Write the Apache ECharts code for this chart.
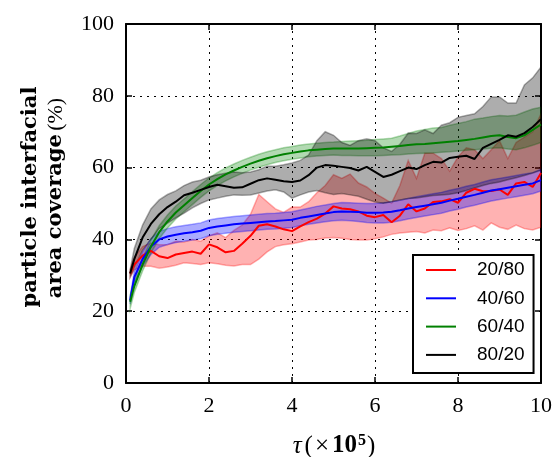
<!DOCTYPE html>
<html>
<head>
<meta charset="utf-8">
<script src="https://cdn.jsdelivr.net/npm/echarts@6/dist/echarts.min.js"></script>
<style>html,body{margin:0;padding:0;background:#fff;}#c{width:555px;height:457px;}</style>
</head>
<body>
<div id="c"></div>
<script>
const xVals = [0.1,0.2,0.4,0.6,0.8,1.0,1.2,1.4,1.6,1.8,2.0,2.2,2.4,2.6,2.8,3.0,3.2,3.4,3.6,3.8,4.0,4.2,4.4,4.6,4.8,5.0,5.2,5.4,5.6,5.8,6.0,6.2,6.4,6.6,6.8,7.0,7.2,7.4,7.6,7.8,8.0,8.2,8.4,8.6,8.8,9.0,9.2,9.4,9.6,9.8,10.0];
const seriesNames = ['20/80','40/60','60/40','80/20'];
const xTicks = [0,2,4,6,8,10];
const yTicks = [0,20,40,60,80,100];

// 20/80 (red)
const redMean = [30.5,33,35.5,36.8,35.3,34.8,35.8,36.2,36.6,36,38.6, 37.8,36.4,36.8,38.8,41, 43.8,44.2,43.6,42.8,42.3, 43.6,44.8,45.8,47.2,49.2, 48.6,48.4,47.8,46.6,46.2, 46.8,44.8,46.6,49.8,47.8, 48.6,50.4,50.6,51.2,50.2, 53,54.1,53.4,53.5,53.9, 52.4,55.6,56,54.6,58.5];
const redUpper = [31.5,35,38,39,38.5,38.5,39.5,39.3,40,39.5,41, 41.8,40.5,42.5,44,47, 52.5,50.5,48.5,47.5,49, 49,50.5,53,55,58, 57,58.2,55.7,54.6,52.8, 51.5,50.1,55,62,57, 64,64,62.5,59,63, 65.5,65,62.5,65,67.5, 62.5,67,68.5,70,75];
const redLower = [29.5,31.5,32.5,32.5,32,32.3,32.8,33.5,33.3,33,33.5, 33.2,32.8,32.6,33,33, 34.5,36.5,38,38.5,38.8, 39.3,39.8,40,40.4,40.5, 40.3,40,39.8,39.8,40.2, 40.7,41.4,41.8,42,42.2, 41.8,42.6,42.4,43.2,42.5, 43,43.8,42.6,44.6,43.4, 42.8,44,43,42.6,43.4];

// 40/60 (blue)
const blueMean = [23,29.5,34.5,38,40,40.8,41.3,41.7,42,42.4,43.2,43.6,43.9,44.2,44.4,44.6,44.8,45,45.1,45.3,45.5,46,46.4,46.8,47.2,47.6, 47.8,47.7,47.6,47.4,47.4,47.5,47.7,48.1,48.6,49,49.4,49.8,50.2,50.8,51.3,51.9,52.4,53,53.6,54,54.4,54.8,55.2,55.6,56.5];
const blueUpper = [24,31,36.5,40.2,42.2,43,43.5,43.9,44.2,44.6,45.4,45.8,46.1,46.4,46.6,46.8,47,47.2,47.3,47.5,47.7,48.2,48.7,49.2,49.6,50, 50.3,50.2,50.1,50,50,50.2,50.5,50.9,51.4,51.9,52.3,52.7,53.1,53.7,54.2,54.8,55.3,56,56.6,57,57.4,57.8,58.2,58.6,59.5];
const blueLower = [22,28,32.5,35.8,37.8,38.6,39.1,39.5,39.8,40.2,41,41.4,41.7,42,42.2,42.4,42.6,42.8,42.9,43.1,43.3,43.8,44.2,44.6,44.9,45.2, 45.3,45.2,45,44.7,44.6,44.6,44.8,45.2,45.7,46.1,46.5,46.9,47.3,47.9,48.4,49,49.5,50.1,50.7,51.1,51.5,51.9,52.3,52.7,53.5];

// 60/40 (green)
const greenMean = [22.6,27,33,38,42,45,47.5,49.5,51.5,53.5,55.3,56.8,58.1,59.2,60.2,61.1,61.9,62.6,63.2,63.7,64.1,64.5,64.8,65,65.2,65.3, 65.3,65.3,65.3,65.4,65.5,65.6,65.8,66,66.3,66.5,66.6,66.8,67,67.2,67.4,67.7,68,68.4,68.8,69,68.5,68.2,69,70.5,72];
const greenUpper = [24.4,28.8,34.8,39.8,43.8,46.8,49.3,51.3,53.3,55.3,57.1,58.6,59.9,61,62,62.9,63.7,64.4,65,65.5,65.9,66.3,66.6,66.8,67,67.1, 67.3,67.4,67.5,67.6,67.8,68,68.2,68.8,69.5,70.2,70.6,71,71.2,71.8,72.3,72.8,73.5,73.8,74.2,74.5,74.4,74.6,75.5,76.3,76.8];
const greenLower = [20.8,25.2,31.2,36.2,40.2,43.2,45.7,47.7,49.7,51.7,53.5,55,56.3,57.4,58.4,59.3,60.1,60.8,61.4,61.9,62.3,62.7,63,63.2,63.4,63.5, 63.4,63.4,63.3,63.3,63.3,63.4,63.5,63.6,63.8,63.9,64,64.1,64.3,64.4,64.6,64.8,65,65.2,65.4,65.5,65.2,65,65.5,66.2,67];

// 80/20 (black)
const blackMean = [30.5,34.5,40.5,44.3,47,49,50.5,52.3,53,53.8,54.6, 55.2,54.8,54.4,54.5,55.5, 56.5,57,56.6,56.2,56, 56.4,57.9,60,60.7,60.5, 60.2,59.9,59.2,60.2,58.8, 57.4,58,59,60,59.6, 60.7,61.6,61.4,62.7,63, 63.3,62.4,65.5,66.6,67.7, 69,68.6,69.6,71.3,73.5];
const blackUpper = [31.5,37.5,44,48.5,51,52.5,53.5,55,56,56.5,57.4, 58,58.4,58.8,58.6,58.8, 59.4,60.4,60.4,60.8,61.3, 62,63.5,67.5,70,69, 67,66.2,67.5,68,67.5, 65.5,64.5,66.5,69.6,69.5, 70.5,69.5,71.8,72.5,74, 74.5,75,77,79.7,79.7, 78,78,83,85,88];
const blackLower = [29.5,32,37,40,43,44.5,46,47.3,48.8,50,51, 51.5,52,52.4,52.3,52.4, 52.9,53.5,53.8,53.2,51.5, 52.4,53.2,53.6,53,52.5, 52.8,52.4,52,51.2,50.4, 50.1,50.5,51,51.4,51.5, 51.9,52.2,52.4,52.6,53, 53.6,54.3,55,55.6,56, 56.6,57.2,57.8,58.5,59.3];

const colors = ['#ff0000','#0000ff','#008000','#000000'];
const bandFill = ['rgba(255,0,0,0.3)','rgba(0,0,255,0.33)','rgba(0,128,0,0.3)','rgba(0,0,0,0.32)'];
const means = [redMean, blueMean, greenMean, blackMean];
const uppers = [redUpper, blueUpper, greenUpper, blackUpper];
const lowers = [redLower, blueLower, greenLower, blackLower];

function pairs(ys){ return xVals.map((x,i)=>[x, ys[i]]); }

const series = [];
for (let k=0;k<4;k++){
  const up = uppers[k], lo = lowers[k], fill = bandFill[k];
  series.push({
    type:'custom', name: seriesNames[k]+' band', silent:true, z:1, clip:true,
    data: [[xVals[0], lo[0]]],
    renderItem: function(params, api){
      const pts = [];
      for (let i=0;i<xVals.length;i++) pts.push(api.coord([xVals[i], up[i]]));
      for (let i=xVals.length-1;i>=0;i--) pts.push(api.coord([xVals[i], lo[i]]));
      return {type:'polygon', shape:{points:pts}, style:{fill:fill, stroke:fill, lineWidth:1.5}};
    }
  });
}
for (let k=0;k<4;k++){
  series.push({
    type:'line', name: seriesNames[k], data: pairs(means[k]), symbol:'none', z:3,
    lineStyle:{color:colors[k], width:2}, itemStyle:{color:colors[k]}, animation:false
  });
}

const serif = '"Liberation Serif", "DejaVu Serif", serif';
const tickLabel = {show:true, fontFamily: serif, fontSize:22, color:'#000', margin:12};
const grid = {type:[2,5], color:'#000', width:1};

const chart = echarts.init(document.getElementById('c'), null, {renderer:'canvas'});
chart.setOption({
  animation:false,
  backgroundColor:'#fff',
  grid:{left:126, right:11, top:24, bottom:74, containLabel:false},
  xAxis:[
    {type:'value', min:0, max:10, interval:2, position:'bottom',
     axisLine:{show:true, onZero:false, lineStyle:{color:'#000', width:2}},
     axisTick:{show:true, inside:true, length:6, lineStyle:{color:'#000', width:1.5}},
     axisLabel:Object.assign({}, tickLabel, {formatter:v=>String(v)}),
     splitLine:{show:true, lineStyle:grid}},
    {type:'value', min:0, max:10, interval:2, position:'top',
     axisLine:{show:true, onZero:false, lineStyle:{color:'#000', width:2}},
     axisTick:{show:true, inside:true, length:6, lineStyle:{color:'#000', width:1.5}},
     axisLabel:{show:false}, splitLine:{show:false}}
  ],
  yAxis:[
    {type:'value', min:0, max:100, interval:20, position:'left',
     axisLine:{show:true, onZero:false, lineStyle:{color:'#000', width:2}},
     axisTick:{show:true, inside:true, length:6, lineStyle:{color:'#000', width:1.5}},
     axisLabel:tickLabel,
     splitLine:{show:true, lineStyle:grid}},
    {type:'value', min:0, max:100, interval:20, position:'right',
     axisLine:{show:true, onZero:false, lineStyle:{color:'#000', width:2}},
     axisTick:{show:true, inside:true, length:6, lineStyle:{color:'#000', width:1.5}},
     axisLabel:{show:false}, splitLine:{show:false}}
  ],
  legend:{
    data: seriesNames, orient:'vertical', left:413, top:255,
    icon:'rect', itemWidth:30, itemHeight:2, itemGap:8.3,
    padding:[5,9,8,13],
    borderColor:'#000', borderWidth:2, backgroundColor:'#fff',
    textStyle:{fontFamily:'"Liberation Sans", Arial, sans-serif', fontSize:19, lineHeight:20, color:'#000', padding:[0,0,0,16]},
    selectedMode:false
  },
  graphic:[
    {type:'text', x:31, y:197, rotation:Math.PI/2, z:10,
     style:{text:'particle interfacial', font:'bold 21px "DejaVu Serif", serif', fill:'#000', align:'center', verticalAlign:'middle'}},
    {type:'text', x:56, y:198, rotation:Math.PI/2, z:10,
     style:{text:'{b|area coverage} {r|(%)}', align:'center', verticalAlign:'middle',
       rich:{b:{font:'bold 21px "DejaVu Serif", serif', fill:'#000'}, r:{font:'22px "Liberation Serif", serif', fill:'#000'}}}},
    {type:'text', x:334, y:446, z:10,
     style:{text:'{i|τ}{r|(}{x|×}{b|10}{s|5}{r|)}', align:'center', verticalAlign:'middle',
       rich:{i:{font:'italic 25px "Liberation Serif", serif', fill:'#000', padding:[0,3,0,0]},
             r:{font:'25px "Liberation Serif", serif', fill:'#000'},
             x:{font:'25px "Liberation Serif", serif', fill:'#000', padding:[0,3,0,2]},
             b:{font:'bold 25px "Liberation Serif", serif', fill:'#000'},
             s:{font:'bold 16px "Liberation Serif", serif', fill:'#000', verticalAlign:'top', padding:[0,1,11,1]}}}}
  ],
  series: series
});
</script>
</body>
</html>
